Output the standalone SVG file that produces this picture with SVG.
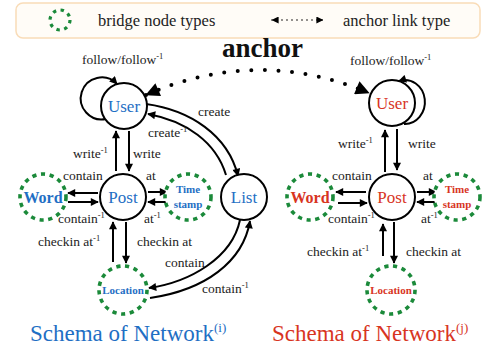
<svg xmlns="http://www.w3.org/2000/svg" width="487" height="354" viewBox="0 0 487 354">
<style>
text{font-family:"Liberation Serif","Times New Roman",serif;}
.lbl{font-size:13.5px;fill:#222;}
.sup{font-size:8.5px;}
.node{fill:#fff;stroke:#000;stroke-width:2;}
.bridge{fill:#fff;stroke:#1b8a3a;stroke-width:3.6;stroke-dasharray:4.2 4.6;}
.blue{fill:#1f6fc4;}
.red{fill:#d8351f;}
.nt{font-size:17px;text-anchor:middle;}
.bt{font-weight:bold;text-anchor:middle;}
.edge{fill:none;stroke:#000;stroke-width:2;marker-end:url(#ah);}
.title{font-size:23px;}
</style>
<defs>
<marker id="ah" viewBox="0 0 10 10" refX="9" refY="5" markerWidth="9" markerHeight="8" markerUnits="userSpaceOnUse" orient="auto"><path d="M0,0 L10,5 L0,10 z" fill="#000"/></marker>
<marker id="big" viewBox="0 0 10 10" refX="9.5" refY="5" markerWidth="16" markerHeight="14" markerUnits="userSpaceOnUse" orient="auto-start-reverse"><path d="M0,0 L10,5 L0,10 z" fill="#000"/></marker>
<marker id="sm" viewBox="0 0 10 10" refX="9.5" refY="5" markerWidth="7" markerHeight="7" markerUnits="userSpaceOnUse" orient="auto-start-reverse"><path d="M0,0 L10,5 L0,10 z" fill="#000"/></marker>
</defs>

<g id="legend">
<rect x="16" y="3" width="464" height="35" rx="7" fill="#fffcf7" stroke="#f9dcb8" stroke-width="1.5"/>
<circle cx="60" cy="20" r="10" fill="none" stroke="#1b8a3a" stroke-width="3.2" stroke-dasharray="3.4 4.5"/>
<text x="98" y="26" style="font-size:16.5px" fill="#222">bridge node types</text>
<path d="M272,20 L323,20" fill="none" stroke="#000" stroke-width="1.6" stroke-dasharray="0 5" stroke-linecap="round" marker-start="url(#sm)" marker-end="url(#sm)"/>
<text x="343" y="26" style="font-size:16.5px" fill="#222">anchor link type</text>
</g>

<text x="222" y="57" style="font-size:27px;font-weight:bold" fill="#111">anchor</text>

<g id="connectors">
<!-- left -->
<path class="edge" d="M106,119 A21,21 0 1 1 117,84"/>
<path class="edge" d="M116,171 L116,131"/>
<path class="edge" d="M129,131 L129,171"/>
<path class="edge" d="M98,193 L68,193"/>
<path class="edge" d="M68,202 L98,202"/>
<path class="edge" d="M148,192 L167,192"/>
<path class="edge" d="M167,202 L148,202"/>
<path class="edge" d="M113,262 L113,222"/>
<path class="edge" d="M126,222 L126,263"/>
<path class="edge" d="M146,104 C190,110 228,135 238,176"/>
<path class="edge" d="M226,175 C216,142 186,121 148,114"/>
<path class="edge" d="M240,220 C232,258 190,282 149,288"/>
<path class="edge" d="M150,298 C205,290 243,262 250,221"/>
<!-- right -->
<path class="edge" d="M404,124 A20,22 0 1 0 399,81"/>
<path class="edge" d="M385,172 L385,130"/>
<path class="edge" d="M397,129 L397,170"/>
<path class="edge" d="M366,192 L336,192"/>
<path class="edge" d="M338,203 L367,203"/>
<path class="edge" d="M417,192 L436,192"/>
<path class="edge" d="M436,202 L417,202"/>
<path class="edge" d="M383,256 L383,224"/>
<path class="edge" d="M394,222 L394,263"/>
<!-- anchor -->
<path d="M146,95 Q258,46 369,93" fill="none" stroke="#000" stroke-width="4" stroke-dasharray="0 13.6" stroke-linecap="round" marker-start="url(#big)" marker-end="url(#big)"/>
</g>

<g id="labels" class="lbl">
<text x="82" y="64">follow/follow<tspan class="sup" dy="-5">-1</tspan></text>
<text x="198" y="116">create</text>
<text x="148" y="137">create<tspan class="sup" dy="-5">-1</tspan></text>
<text x="73" y="158">write<tspan class="sup" dy="-5">-1</tspan></text>
<text x="133" y="158">write</text>
<text x="63" y="180">contain</text>
<text x="146" y="180">at</text>
<text x="58" y="223">contain<tspan class="sup" dy="-5">-1</tspan></text>
<text x="144" y="223">at<tspan class="sup" dy="-5">-1</tspan></text>
<text x="38" y="246">checkin at<tspan class="sup" dy="-5">-1</tspan></text>
<text x="137" y="246">checkin at</text>
<text x="165" y="267">contain</text>
<text x="202" y="293">contain<tspan class="sup" dy="-5">-1</tspan></text>

<text x="350" y="65">follow/follow<tspan class="sup" dy="-5">-1</tspan></text>
<text x="338" y="148">write<tspan class="sup" dy="-5">-1</tspan></text>
<text x="408" y="148">write</text>
<text x="332" y="180">contain</text>
<text x="423" y="180">at</text>
<text x="328" y="223">contain<tspan class="sup" dy="-5">-1</tspan></text>
<text x="421" y="223">at<tspan class="sup" dy="-5">-1</tspan></text>
<text x="307" y="256">checkin at<tspan class="sup" dy="-5">-1</tspan></text>
<text x="406" y="256">checkin at</text>
</g>

<g id="user-i"><circle class="node" cx="124" cy="106" r="23"/><text class="nt blue" x="124" y="112">User</text></g>
<g id="post-i"><circle class="node" cx="123" cy="197" r="23"/><text class="nt blue" x="123" y="203">Post</text></g>
<g id="word-i"><circle class="bridge" cx="43" cy="197" r="23"/><text class="bt blue" x="43" y="203" style="font-size:16px">Word</text></g>
<g id="timestamp-i"><circle class="bridge" cx="188" cy="197" r="23"/><text class="bt blue" x="188" y="193" style="font-size:11px">Time</text><text class="bt blue" x="188" y="208" style="font-size:11px">stamp</text></g>
<g id="list-i"><circle class="node" cx="244" cy="197" r="23"/><text class="nt blue" x="244" y="203">List</text></g>
<g id="location-i"><circle class="bridge" cx="123" cy="290" r="24"/><text class="bt blue" x="123" y="294" style="font-size:11px">Location</text></g>

<g id="user-j"><circle class="node" cx="392" cy="103" r="23"/><text class="nt red" x="392" y="109">User</text></g>
<g id="post-j"><circle class="node" cx="392" cy="197" r="23"/><text class="nt red" x="392" y="203">Post</text></g>
<g id="word-j"><circle class="bridge" cx="310" cy="197" r="23"/><text class="bt red" x="310" y="203" style="font-size:16px">Word</text></g>
<g id="timestamp-j"><circle class="bridge" cx="457" cy="197" r="23"/><text class="bt red" x="457" y="193" style="font-size:11px">Time</text><text class="bt red" x="457" y="208" style="font-size:11px">stamp</text></g>
<g id="location-j"><circle class="bridge" cx="391" cy="290" r="24"/><text class="bt red" x="391" y="294" style="font-size:11px">Location</text></g>

<text class="title blue" x="30" y="341">Schema of Network<tspan style="font-size:13px" dy="-9">(i)</tspan></text>
<text class="title red" x="272" y="341">Schema of Network<tspan style="font-size:13px" dy="-9">(j)</tspan></text>
</svg>
